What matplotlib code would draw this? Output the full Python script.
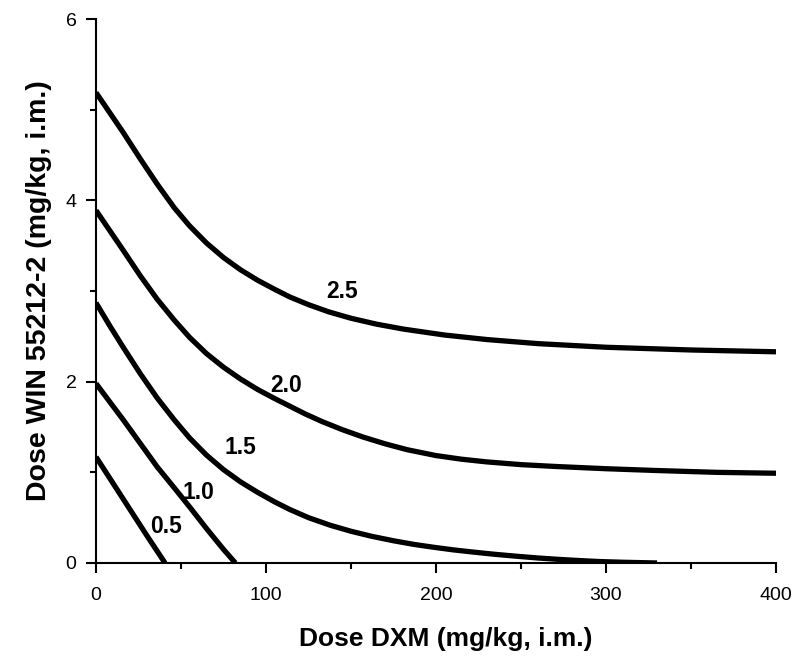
import matplotlib.pyplot as plt
from matplotlib.ticker import MultipleLocator

plt.rcParams['font.family'] = ['Liberation Sans', 'DejaVu Sans']

# isobolo curves (DXM dose, WIN dose)
dxm_25 = [0, 8, 16, 26, 36, 46, 55, 65, 75, 85, 95, 105, 114, 125, 137, 150, 165, 181,
          205, 230, 260, 300, 350, 400]
win_25 = [5.19, 4.97, 4.75, 4.46, 4.18, 3.92, 3.72, 3.53, 3.37, 3.235, 3.12, 3.02, 2.935,
          2.85, 2.77, 2.70, 2.635, 2.58, 2.515, 2.465, 2.42, 2.38, 2.35, 2.33]

dxm_20 = [0, 8, 16, 26, 36, 46, 55, 65, 75, 85, 95, 105, 114, 123, 133, 145, 157, 170,
          183, 200, 215, 230, 250, 270, 300, 330, 365, 400]
win_20 = [3.89, 3.67, 3.45, 3.17, 2.91, 2.68, 2.49, 2.31, 2.16, 2.03, 1.915, 1.815, 1.73,
          1.645, 1.56, 1.47, 1.39, 1.315, 1.25, 1.185, 1.145, 1.115, 1.085, 1.065, 1.04,
          1.02, 1.00, 0.99]

dxm_15 = [0, 8, 16, 26, 36, 46, 55, 65, 75, 85, 95, 105, 114, 125, 138, 150, 162, 175,
          187, 198, 210, 222, 235, 247, 260, 272, 285, 296, 310, 330]
win_15 = [2.87, 2.62, 2.38, 2.09, 1.82, 1.58, 1.38, 1.19, 1.03, 0.895, 0.78, 0.675, 0.59,
          0.50, 0.415, 0.35, 0.295, 0.245, 0.205, 0.175, 0.145, 0.12, 0.095, 0.075, 0.055,
          0.04, 0.026, 0.016, 0.008, 0.0]

dxm_10 = [0, 8, 16, 26, 36, 46, 55, 65, 75, 82]
win_10 = [1.98, 1.78, 1.58, 1.32, 1.06, 0.83, 0.62, 0.38, 0.15, 0.0]

dxm_05 = [0, 10, 20, 30, 40.6]
win_05 = [1.17, 0.88, 0.59, 0.30, 0.0]

curves = [(dxm_25, win_25), (dxm_20, win_20), (dxm_15, win_15), (dxm_10, win_10), (dxm_05, win_05)]
labels = ['2.5', '2.0', '1.5', '1.0', '0.5']
label_x = [145, 112, 85, 60, 41]
label_y = [3.0, 1.96, 1.27, 0.78, 0.40]

fig = plt.figure(figsize=(8, 6.56), dpi=100)
ax = fig.add_axes([0.12, 0.1418, 0.85, 0.829])

for (x, y) in curves:
    ax.plot(x, y, color='black', linewidth=3.8, solid_joinstyle='round', solid_capstyle='butt')

for txt, lx, ly in zip(labels, label_x, label_y):
    ax.text(lx, ly, txt, fontsize=16.5, fontweight='bold', ha='center', va='center')

ax.set_xlim(0, 400)
ax.set_ylim(0, 6)
ax.xaxis.set_major_locator(MultipleLocator(100))
ax.xaxis.set_minor_locator(MultipleLocator(50))
ax.yaxis.set_major_locator(MultipleLocator(2))
ax.yaxis.set_minor_locator(MultipleLocator(1))

for s in ['top', 'right']:
    ax.spines[s].set_visible(False)
for s in ['left', 'bottom']:
    ax.spines[s].set_linewidth(1.5)

ax.tick_params(which='major', direction='out', length=7, width=1.5, labelsize=14, pad=10)
ax.tick_params(which='minor', direction='out', length=4, width=1.5)
ax.tick_params(axis='y', which='major', pad=7)

ax.set_xlabel('Dose DXM (mg/kg, i.m.)', fontsize=19, fontweight='bold')
ax.xaxis.set_label_coords(0.515, -0.117)
ax.set_ylabel('Dose WIN 55212-2 (mg/kg, i.m.)', fontsize=20.5, fontweight='bold', labelpad=10)

fig.savefig('out.png', dpi=100)
